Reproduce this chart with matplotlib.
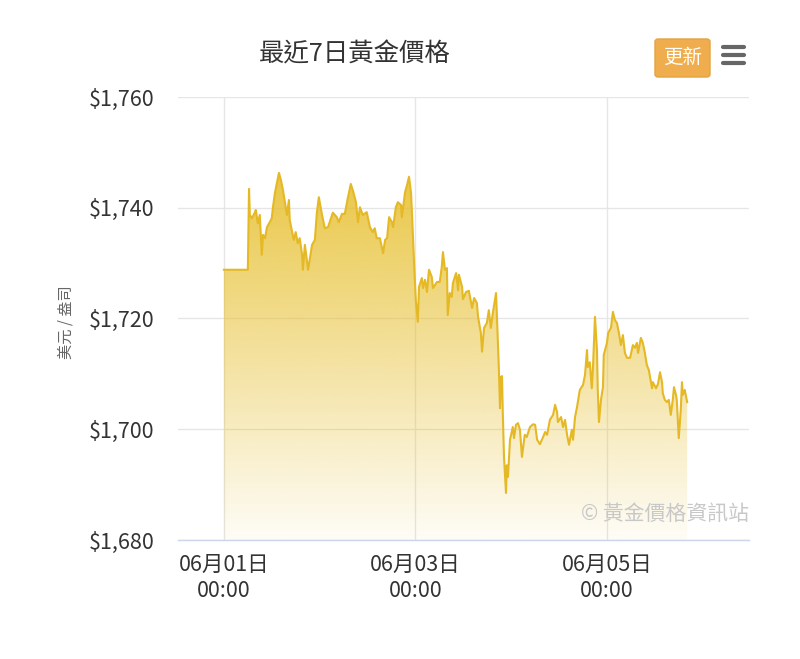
import numpy as np
import matplotlib
matplotlib.use("Agg")
import matplotlib.pyplot as plt
from matplotlib.patches import FancyBboxPatch, Polygon
from matplotlib.lines import Line2D

plt.rcParams['font.family'] = ['Noto Sans CJK TC', 'DejaVu Sans']

# hours since 06月01日 00:00
hours = [0, 6.0, 6.3, 6.5, 7.0, 7.8, 8.0, 8.5, 9.0, 9.5, 9.8, 10.3, 10.8, 11.5, 12.0, 12.3, 12.8, 13.3, 13.8,
         14.3, 14.8, 15.3, 15.8, 16.3, 16.5, 17.0, 17.5, 18.0, 18.5, 19.0, 19.6, 19.8, 20.3, 21.1, 21.3, 22.1,
         22.8, 23.3, 23.8, 24.6, 25.3, 26.1, 27.3, 28.3, 28.8, 29.6, 30.3, 31.1, 31.8, 32.3, 33.1, 33.6, 34.1,
         34.8, 35.8, 36.6, 37.3, 37.8, 38.3, 39.1, 39.9, 40.4, 40.9, 41.4, 42.1, 42.4, 43.1, 43.6, 44.4, 44.6,
         45.4, 45.9, 46.4, 46.9, 47.1, 47.6, 48.1, 48.6, 48.9, 49.6, 49.9, 50.4, 50.9, 51.4, 52.1, 52.4, 53.4,
         54.1, 54.6, 54.9, 55.4, 55.9, 56.1, 56.6, 57.1, 57.4, 58.2, 58.7, 58.9, 59.7, 59.9, 60.7, 61.4, 62.2,
         62.7, 63.4, 63.7, 64.4, 64.7, 65.2, 65.9, 66.4, 66.9, 67.4, 68.2, 68.4, 68.9, 69.2, 69.4, 69.7, 69.9,
         70.2, 70.7, 70.9, 71.2, 71.7, 72.4, 72.7, 73.2, 73.7, 74.2, 74.7, 75.4, 75.9, 76.7, 77.5, 78.0, 78.5,
         79.2, 80.0, 80.5, 81.0, 81.7, 82.5, 83.0, 83.5, 83.7, 84.5, 85.0, 85.5, 86.0, 86.5, 87.2, 87.5, 88.0,
         88.5, 89.2, 90.0, 90.5, 91.0, 91.2, 91.7, 92.2, 92.5, 93.0, 93.5, 93.7, 94.0, 94.5, 95.0, 95.2, 96.0,
         96.3, 97.0, 97.5, 98.0, 98.5, 99.0, 99.5, 100.0, 100.5, 101.0, 101.8, 102.5, 103.0, 103.5, 103.8,
         104.5, 105.0, 105.5, 106.0, 106.5, 107.3, 107.5, 108.3, 108.8, 109.3, 109.8, 110.0, 110.5, 111.0,
         111.5, 112.0, 112.5, 112.8, 113.3, 113.5, 114.0, 114.5, 114.8, 115.0, 115.5, 116.1]

prices = [1728.8, 1728.8, 1743.4, 1738.7, 1738.1, 1739.2, 1739.6, 1737.2, 1738.7, 1731.5, 1735.1, 1734.5,
          1736.5, 1737.4, 1738.1, 1740.1, 1742.7, 1744.5, 1746.3, 1745.0, 1743.2, 1740.9, 1738.7, 1741.4,
          1737.8, 1736.0, 1734.2, 1735.6, 1733.6, 1734.5, 1731.5, 1728.8, 1733.3, 1728.8, 1729.7, 1733.3,
          1734.2, 1739.1, 1741.9, 1738.7, 1736.3, 1736.5, 1739.1, 1738.3, 1737.4, 1738.9, 1738.9, 1741.9,
          1744.3, 1743.2, 1741.0, 1737.4, 1740.1, 1738.7, 1739.2, 1736.5, 1735.6, 1736.3, 1734.5, 1734.5,
          1731.8, 1734.2, 1734.5, 1738.3, 1737.4, 1736.5, 1740.1, 1741.0, 1740.5, 1738.3, 1742.8, 1744.1,
          1745.6, 1742.7, 1739.6, 1731.1, 1723.3, 1719.4, 1725.7, 1727.3, 1725.5, 1727.0, 1724.8, 1728.8,
          1727.5, 1725.5, 1726.6, 1726.6, 1729.3, 1732.0, 1728.8, 1729.1, 1720.6, 1724.6, 1723.9, 1726.4,
          1728.2, 1725.1, 1727.9, 1725.7, 1723.5, 1724.8, 1725.0, 1721.9, 1723.7, 1722.8, 1720.3, 1717.4,
          1714.0, 1718.3, 1719.2, 1721.5, 1718.3, 1721.0, 1724.6, 1721.0, 1711.2, 1703.8, 1709.4, 1709.6,
          1702.9, 1695.0, 1688.5, 1693.5, 1691.4, 1698.1, 1700.4, 1698.4, 1700.8, 1701.1, 1699.9, 1695.0,
          1699.0, 1698.6, 1700.4, 1700.9, 1700.8, 1698.1, 1697.3, 1698.6, 1699.5, 1699.0, 1701.7, 1702.6,
          1704.4, 1703.1, 1701.3, 1702.2, 1700.4, 1701.7, 1699.0, 1697.2, 1699.9, 1698.1, 1702.2, 1704.0,
          1707.1, 1708.0, 1709.8, 1714.3, 1711.2, 1712.1, 1707.4, 1711.2, 1720.3, 1714.3, 1707.1, 1701.3,
          1705.3, 1707.6, 1713.4, 1715.6, 1717.4, 1718.3, 1721.2, 1719.7, 1719.2, 1717.4, 1715.2, 1717.0,
          1713.8, 1712.9, 1712.9, 1715.2, 1714.7, 1715.6, 1713.8, 1716.5, 1715.6, 1713.8, 1711.6, 1710.7,
          1707.4, 1708.5, 1707.4, 1708.2, 1710.3, 1708.5, 1706.5, 1705.3, 1704.9, 1705.3, 1702.6, 1705.3,
          1707.6, 1706.2, 1705.3, 1698.4, 1703.5, 1708.5, 1706.2, 1707.1, 1704.9]

x_tick_hours = [0, 48, 96]
x_tick_labels = ["06月01日\n00:00", "06月03日\n00:00", "06月05日\n00:00"]
y_ticks = [1680, 1700, 1720, 1740, 1760]
y_tick_labels = ["$1,680", "$1,700", "$1,720", "$1,740", "$1,760"]

title = "最近7日黃金價格"
y_title = "美元 / 盎司"
credit = "© 黃金價格資訊站"
button_text = "更新"

W, H = 800, 659
fig = plt.figure(figsize=(W / 100, H / 100), dpi=100)
ax = fig.add_axes([178 / W, 1 - 540 / H, (749 - 178) / W, (540 - 97) / H])

xmin, xmax = -11.5, 131.6
ymin, ymax = 1680, 1760
ax.set_xlim(xmin, xmax)
ax.set_ylim(ymin, ymax)

t = np.array(hours)
p = np.array(prices)

# gradient fill
base = np.array([229, 186, 30]) / 255.0
n = 256
grad = np.zeros((n, 1, 4))
alphas = np.linspace(0.98, 0.04, n)
grad[:, 0, :3] = base
grad[:, 0, 3] = alphas
img = ax.imshow(grad, extent=[xmin, xmax, ymin, ymax], origin='upper', aspect='auto', zorder=2,
                interpolation='bilinear')
verts = np.vstack([np.column_stack([t, p]), [[t[-1], ymin], [t[0], ymin]]])
poly = Polygon(verts, closed=True, facecolor='none', edgecolor='none')
ax.add_patch(poly)
img.set_clip_path(poly)

ax.plot(t, p, color='#e5b925', lw=1.5, zorder=3, solid_joinstyle='round')

ax.set_yticks(y_ticks)
ax.set_yticklabels(y_tick_labels)
ax.set_xticks(x_tick_hours)
ax.set_xticklabels(x_tick_labels, linespacing=1.25)
ax.grid(True, color='#e6e6e6', lw=1, zorder=0)
ax.set_axisbelow(True)
for s in ['top', 'right', 'left']:
    ax.spines[s].set_visible(False)
ax.spines['bottom'].set_color('#ccd6eb')
ax.spines['bottom'].set_linewidth(1)
ax.tick_params(axis='y', length=0, pad=17, labelsize=15.5, labelcolor='#333333')
ax.tick_params(axis='x', length=0, pad=10, labelsize=15.5, labelcolor='#333333')

fig.text(355 / W, 1 - 54 / H, title, ha='center', va='center', fontsize=18.3, color='#333333')
fig.text(66 / W, 1 - 322 / H, y_title, ha='center', va='center', rotation=90, fontsize=11,
         color='#666666')
fig.text(749 / W, 1 - 514 / H, credit, ha='right', va='center', fontsize=15, color='#c8c8c8', zorder=5)

# export button
btn = FancyBboxPatch((655 / W, 1 - 77 / H), 55 / W, 38 / H,
                     boxstyle="round,pad=0,rounding_size=0.004",
                     transform=fig.transFigure, facecolor='#f0ad4e', edgecolor='#e6a23f', lw=1)
fig.patches.append(btn)
fig.text(682.5 / W, 1 - 57 / H, button_text, ha='center', va='center', fontsize=14, color='white')
for yy in [47, 55, 63]:
    fig.lines.append(Line2D([723 / W, 744 / W], [1 - yy / H, 1 - yy / H], transform=fig.transFigure,
                            color='#666666', lw=3, solid_capstyle='round'))

fig.savefig("out.png", dpi=100)
